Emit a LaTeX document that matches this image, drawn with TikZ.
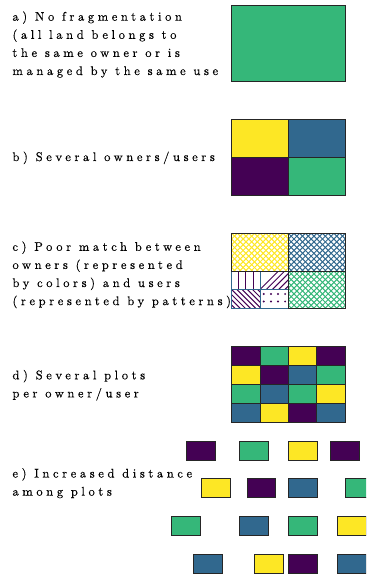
\documentclass[tikz,border=0pt]{standalone}
\usepackage{fontspec}
\newfontfamily\lsfont{lmroman10-regular.otf}[LetterSpace=29,FakeBold=0.3]
\definecolor{vpurple}{HTML}{440154}
\definecolor{vblue}{HTML}{31688E}
\definecolor{vgreen}{HTML}{35B779}
\definecolor{vyellow}{HTML}{FDE725}
\begin{document}
\begin{tikzpicture}[x=1pt,y=-1pt,
  cell/.style={draw=black!85, line width=0.8pt},
  subcell/.style={draw=vblue, line width=0.8pt},
  lbl/.style={anchor=base west, inner sep=0pt, font=\lsfont\fontsize{12.5}{14}\selectfont},
  hatch/.style={line width=1pt}]
\useasboundingbox (0,0) rectangle (366,577);
\clip (0,0) rectangle (366,577);

% ---------- a) ----------
\node[lbl] (a1) at (12.3,20.7) {a) No fragmentation};
\node[lbl] (a2) at (12.3,38.8) {(all land belongs to};
\node[lbl] (a3) at (12.3,56.9) {the same owner or is};
\node[lbl] (a4) at (12.3,75.0) {managed by the same use};
\draw[cell, fill=vgreen] (231.7,5.7) rectangle (345,81.7);

% ---------- b) ----------
\node[lbl] (b1) at (12.3,161) {b) Several owners/users};
\draw[cell, fill=vyellow] (231.7,119) rectangle (288.3,157.3);
\draw[cell, fill=vblue]   (288.3,119) rectangle (345,157.3);
\draw[cell, fill=vpurple] (231.7,157.3) rectangle (288.3,195);
\draw[cell, fill=vgreen]  (288.3,157.3) rectangle (345,195);

% ---------- c) ----------
\node[lbl] (c1) at (12.3,250.8) {c) Poor match between};
\node[lbl] (c2) at (12.3,268.9) {owners (represented};
\node[lbl] (c3) at (12.3,287.0) {by colors) and users};
\node[lbl] (c4) at (12.3,305.1) {(represented by patterns)};

% crosshatch quadrants
\foreach \xa/\ya/\xb/\yb/\col in {231.7/233.3/288.3/271/vyellow, 288.3/233.3/345/271/vblue, 288.3/271/345/308.3/vgreen}{
  \begin{scope}
    \clip (\xa,\ya) rectangle (\xb,\yb);
    \foreach \k in {-8,...,18}{
      \draw[hatch, draw=\col] (\xa+\k*5.7,\ya) -- ++(45,45);
      \draw[hatch, draw=\col] (\xa+\k*5.7,\ya) -- ++(-45,45);
    }
  \end{scope}
}
% sub-cell patterns (purple)
\begin{scope}
  \clip (231.7,271) rectangle (260,289.5);
  \foreach \xx in {238.8,245.9,253}{\draw[hatch, draw=vpurple] (\xx,271) -- (\xx,289.5);}
\end{scope}
\begin{scope}
  \clip (260,271) rectangle (288.3,289.5);
  \foreach \k in {0,...,10}{\draw[hatch, draw=vpurple] (260+\k*6.2,289.5) -- ++(25,-25);}
\end{scope}
\begin{scope}
  \clip (231.7,289.5) rectangle (260,308.3);
  \foreach \k in {-5,...,6}{\draw[hatch, draw=vpurple] (231.7+\k*5.2,289.5) -- ++(25,25);}
\end{scope}
\foreach \xx in {263.8,270.9,278,285.1}{
  \foreach \yy in {294,301.5}{\fill[vpurple] (\xx,\yy) circle (1.1pt);}
}
\draw[subcell] (231.7,271) rectangle (260,289.5);
\draw[subcell] (260,271) rectangle (288.3,289.5);
\draw[subcell] (231.7,289.5) rectangle (260,308.3);
\draw[subcell] (260,289.5) rectangle (288.3,308.3);
\draw[cell] (231.7,233.3) rectangle (288.3,271);
\draw[cell] (288.3,233.3) rectangle (345,271);
\draw[cell] (288.3,271) rectangle (345,308.3);

% ---------- d) ----------
\node[lbl] (d1) at (12.3,379.3) {d) Several plots};
\node[lbl] (d2) at (12.3,397.4) {per owner/user};
\foreach \row/\ya in {0/346, 1/365, 2/384, 3/403}{
  \foreach \colnum/\xa in {0/231.7, 1/260, 2/288.3, 3/316.7}{
    \pgfmathtruncatemacro{\idx}{\row*4+\colnum}
    \ifcase\idx \def\cc{vpurple}\or \def\cc{vgreen}\or \def\cc{vyellow}\or \def\cc{vpurple}%
    \or \def\cc{vyellow}\or \def\cc{vpurple}\or \def\cc{vblue}\or \def\cc{vgreen}%
    \or \def\cc{vgreen}\or \def\cc{vblue}\or \def\cc{vgreen}\or \def\cc{vyellow}%
    \or \def\cc{vblue}\or \def\cc{vyellow}\or \def\cc{vpurple}\or \def\cc{vblue}\fi
    \draw[cell, fill=\cc] (\xa,\ya) rectangle ++(28.4,19);
  }
}

% ---------- e) ----------
\node[lbl] (e1) at (12.3,477.5) {e) Increased distance};
\node[lbl] (e2) at (12.3,495.6) {among plots};
\foreach \xa/\ya/\cc in {
  186.3/441/vpurple, 239.3/441/vgreen, 288.3/441/vyellow, 330.3/441/vpurple,
  201.3/478.7/vyellow, 247/478.7/vpurple, 288.3/478.7/vblue, 345.3/478.7/vgreen,
  171.3/516.7/vgreen, 239.3/516.7/vblue, 288.3/516.7/vgreen, 337.7/516.7/vyellow,
  193.7/554.3/vblue, 254.3/554.3/vyellow, 288.3/554.3/vpurple, 337.7/554.3/vblue}{
  \draw[cell, fill=\cc] (\xa,\ya) rectangle ++(28.6,19);
}
\end{tikzpicture}
\end{document}
